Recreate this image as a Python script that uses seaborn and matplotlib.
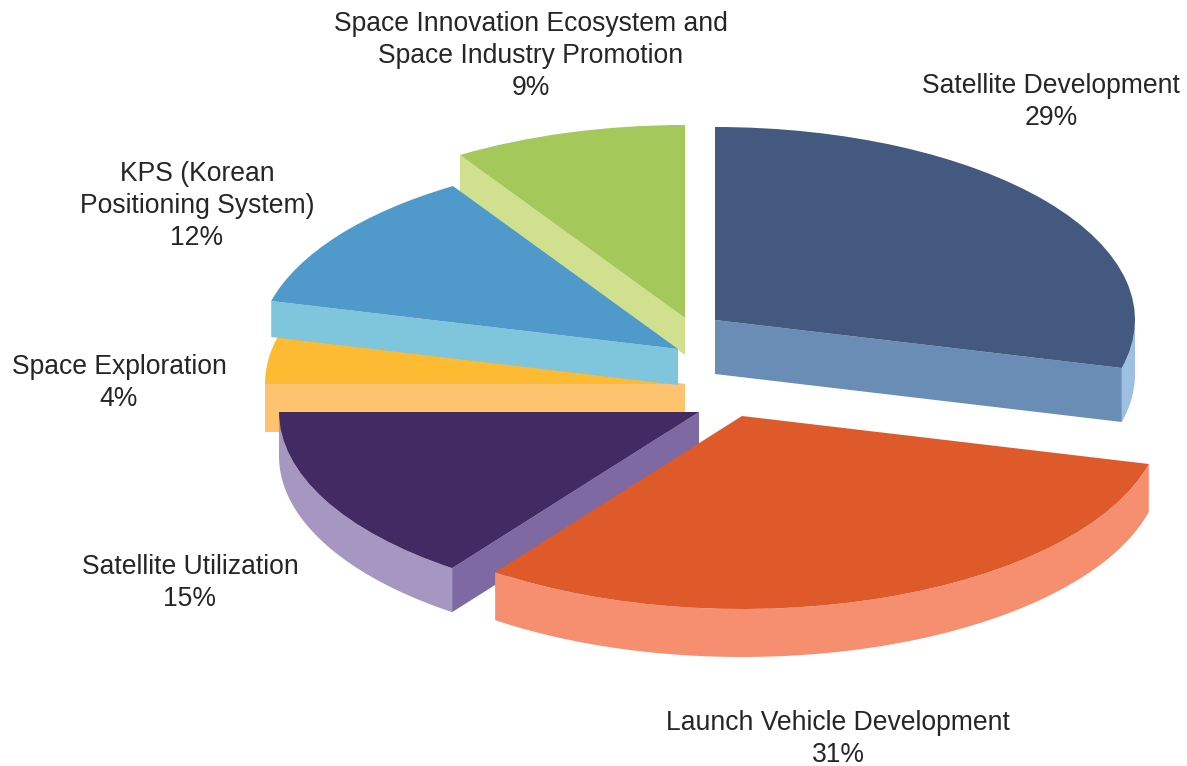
import numpy as np
import matplotlib
matplotlib.use("Agg")
import matplotlib.pyplot as plt
from matplotlib.patches import Polygon
import seaborn as sns

# Budget shares, clockwise from twelve o'clock
categories = [
    "Satellite Development",
    "Launch Vehicle Development",
    "Satellite Utilization",
    "Space Exploration",
    "KPS (Korean\nPositioning System)",
    "Space Innovation Ecosystem and\nSpace Industry Promotion",
]
shares = [29, 31, 15, 4, 12, 9]

top_colors = sns.color_palette(["#43597F", "#DE5A2B", "#422A63", "#FDBB33", "#4F9ACB", "#A4C85A"])
cut_colors = sns.color_palette(["#6A8DB5", "#F58F70", "#7E69A3", "#FDC36E", "#7FC5DC", "#D1E08E"])
rim_colors = sns.color_palette(["#9DC0E2", "#F58F70", "#A596C2", "#FDC36E", "#7FC5DC", "#D1E08E"])

# Layout in pixels: slice apexes, extrusion depth, label centres
WIDTH, HEIGHT = 1187, 766
RX, RY = 420.0, 193.0
apex_x = [715, 742, 699, 685, 678, 685]
apex_y = [320, 416, 412, 384, 349, 318]
depths = [54, 48, 44, 48, 36, 37]
label_x = [1051, 838, 190, 119, 197, 531]
label_y = [102, 739, 583, 383, 206, 56]
draw_order = [5, 3, 4, 0, 2, 1]

sns.set_theme(style="white")
plt.rcParams["font.family"] = ["Liberation Sans", "DejaVu Sans"]

fig = plt.figure(figsize=(WIDTH / 100, HEIGHT / 100), dpi=100, facecolor="white")
ax = fig.add_axes([0, 0, 1, 1])

wedges, _ = ax.pie(shares, colors=top_colors, startangle=90, counterclock=False, radius=1.0)

# One data unit is RX pixels across and RY pixels down, which tilts the pie
ax.set_aspect("auto")
ax.set_xlim(0, WIDTH / RX)
ax.set_ylim(-HEIGHT / RY, 0)
ax.axis("off")


def to_data(px, py):
    return px / RX, -py / RY


def rim_point(center, theta_deg):
    t = np.radians(theta_deg)
    return center[0] + np.cos(t), center[1] + np.sin(t)


for i in draw_order:
    w = wedges[i]
    center = to_data(apex_x[i], apex_y[i])
    drop = depths[i] / RY
    w.set_center(center)
    w.set_linewidth(0)
    w.set_zorder(10 + 3 * draw_order.index(i) + 2)
    base_z = 10 + 3 * draw_order.index(i)

    # Cut faces that turn towards the viewer
    for theta, facing in ((w.theta1, np.cos(np.radians(w.theta1)) > 0.001),
                          (w.theta2, np.cos(np.radians(w.theta2)) < -0.001)):
        if facing:
            px_, py_ = rim_point(center, theta)
            quad = [center, (px_, py_), (px_, py_ - drop), (center[0], center[1] - drop)]
            ax.add_patch(Polygon(quad, closed=True, facecolor=cut_colors[i],
                                 edgecolor="none", zorder=base_z + 1))

    # Outer wall along the front half of the rim
    lo, hi = max(w.theta1, -180.0), min(w.theta2, 0.0)
    if hi > lo:
        arc = np.linspace(lo, hi, 80)
        upper = np.column_stack(rim_point(center, arc))
        lower = upper[::-1] - np.array([0, drop])
        ax.add_patch(Polygon(np.vstack([upper, lower]), closed=True, facecolor=rim_colors[i],
                             edgecolor="none", zorder=base_z))

for name, share, lx, ly in zip(categories, shares, label_x, label_y):
    x, y = to_data(lx, ly)
    ax.text(x, y, f"{name}\n{share}%", ha="center", va="center", multialignment="center",
            fontsize=19.1, color="#262626", linespacing=1.3, zorder=50)

fig.savefig("out.png", dpi=100, facecolor="white")
